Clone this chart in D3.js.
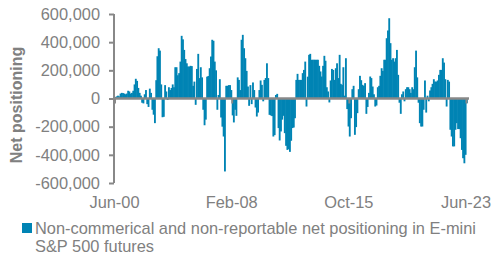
<!DOCTYPE html>
<html>
<head>
<meta charset="utf-8">
<script src="https://cdn.jsdelivr.net/npm/d3@7"></script>
<style>
  body { margin: 0; background: #fff; }
  text { font-family: "Liberation Sans", Arial, sans-serif; fill: #808080; }
</style>
</head>
<body>
<div id="chart"></div>
<script>
//net positioning, one value per month from Jun-00 to Jun-23 (thousands of contracts)
const startMonth = new Date(2000, 5, 1);
const netPositions = [
  10, 15, 20, 15, 35, 40, 38, 35, 30, 35,
  55, 50, 35, 40, 55, 100, 140, 125, 75, 40,
  20, -30, -35, 30, 60, -40, -60, 70, 40, -80,
  -115, -175, 130, 300, 357, 340, 100, -133, -130, 95,
  50, -10, 80, 60, 75, 100, 80, 222, 222, 165,
  180, 262, 445, 420, 345, 280, 250, 227, 227, 232,
  230, 90, 120, -45, 210, 317, 145, 222, 150, -80,
  -190, -150, 155, 160, 215, 298, 417, 410, 262, 200,
  -80, 25, 137, -135, -200, -270, -518, 90, 90, 95,
  95, 60, -120, -170, -80, -123, 150, 132, 60, 417,
  452, 357, 286, 196, 85, -52, 95, -40, 114, 60,
  -64, -128, -100, 60, 128, 97, -20, 132, 145, 250,
  145, -116, -120, -125, -270, -260, 25, 33, -210, -298,
  -234, -150, -123, -246, -336, -365, -360, -379, -300, -210,
  -206, -140, 132, 175, 132, 132, 132, 180, 203, 262,
  -57, 155, 310, 317, 275, 275, 275, 275, 275, 275,
  232, 192, 156, 232, 303, 268, 80, 50, -28, 128,
  210, 203, 132, 215, 250, 145, 310, 104, 97, 222,
  20, 286, -75, -199, -270, -140, 66, 90, -258, -203,
  -104, 66, 161, 130, 97, 90, 109, -109, -60, 40,
  156, 145, 85, 30, -57, -50, 80, 90, 161, 215,
  196, 275, 275, 428, 483, 570, 393, 275, 286, 262,
  286, 345, 168, -30, -109, 30, 50, -20, 66, 80,
  80, 66, 40, 80, 66, 222, 340, 150, -30, -175,
  -199, -199, -80, 128, -100, 20, -20, 57, 80, 104,
  137, 120, 120, 128, 168, 203, 203, 286, 255, 137,
  -57, 132, 120, -222, -270, -340, -340, -222, -175, -217,
  -217, -282, -365, -424, -460, -400, -33
];
const yTicks = [-600000, -400000, -200000, 0, 200000, 400000, 600000];
const xTickDates = [new Date(2000, 5, 1), new Date(2008, 1, 1), new Date(2015, 9, 1), new Date(2023, 5, 1)];
const xTickLabels = ["Jun-00", "Feb-08", "Oct-15", "Jun-23"];
const legendLines = ["Non-commerical and non-reportable net positioning in E-mini", "S&P 500 futures"];

var fontSize = "16.4px";

var data = netPositions.map(function(v, i) {
    return { date: d3.timeMonth.offset(startMonth, i), value: v * 1000 };
});

var svg = d3.select("#chart").append("svg")
    .attr("width", 496)
    .attr("height", 261);

var x = d3.scaleTime()
    .domain([startMonth, d3.timeMonth.offset(startMonth, netPositions.length - 1)])
    .range([114.5, 466]);

var y = d3.scaleLinear()
    .domain([-600000, 600000])
    .range([183, 14]);

var step = x(d3.timeMonth.offset(startMonth, 1)) - x(startMonth);

//bars (a little wider than the step so there are no gaps)
svg.append("g")
    .selectAll("rect")
    .data(data)
    .enter()
    .append("rect")
        .attr("x", function(d) { return x(d.date); })
        .attr("width", step + 0.6)
        .attr("y", function(d) { return y(Math.max(0, d.value)); })
        .attr("height", function(d) { return Math.abs(y(d.value) - y(0)); })
        .style("fill", "#0084b4");

//y axis
var yAxis = svg.append("g")
    .attr("transform", "translate(114,0)")
    .call(d3.axisLeft(y).tickValues(yTicks).tickSize(5).tickPadding(9)
        .tickFormat(d3.format(",")));
yAxis.select(".domain").attr("stroke", "#888").attr("stroke-width", 2).attr("d", "M0,14V183");
yAxis.selectAll(".tick line").attr("stroke", "#888").attr("stroke-width", 2);
yAxis.selectAll(".tick text").style("font-size", fontSize).attr("fill", "#808080")
    .text(function(d) { return d < 0 ? "-" + d3.format(",")(-d) : d3.format(",")(d); });

//zero line with ticks at the labelled dates
var xAxis = svg.append("g")
    .attr("transform", "translate(0," + y(0) + ")")
    .call(d3.axisBottom(x).tickValues(xTickDates).tickSize(5).tickFormat(""));
xAxis.select(".domain").attr("stroke", "#888").attr("stroke-width", 2.3).attr("d", "M113,0H469");
xAxis.selectAll(".tick line").attr("stroke", "#888").attr("stroke-width", 2);

//date labels along the bottom
svg.append("g")
    .selectAll("text")
    .data(xTickDates)
    .enter()
    .append("text")
        .attr("x", function(d) { return x(d); })
        .attr("y", 208)
        .attr("text-anchor", "middle")
        .style("font-size", fontSize)
        .text(function(_, i) { return xTickLabels[i]; });

//axis title
svg.append("text")
    .attr("transform", "translate(22,105) rotate(-90)")
    .attr("text-anchor", "middle")
    .style("font-size", "16px")
    .style("font-weight", "bold")
    .text("Net positioning");

//legend
svg.append("rect")
    .attr("x", 22)
    .attr("y", 223)
    .attr("width", 10)
    .attr("height", 10)
    .style("fill", "#0084b4");

svg.append("g")
    .selectAll("text")
    .data(legendLines)
    .enter()
    .append("text")
        .attr("x", 35)
        .attr("y", function(_, i) { return 234 + i * 18; })
        .style("font-size", fontSize)
        .text(function(d) { return d; });
</script>
</body>
</html>
